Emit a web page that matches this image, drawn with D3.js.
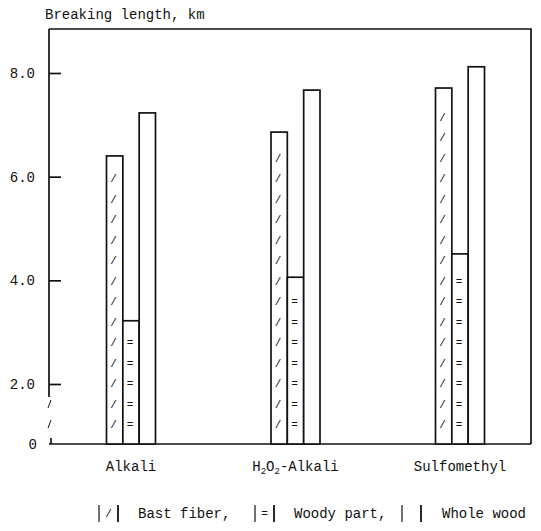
<!DOCTYPE html>
<html>
<head>
<meta charset="utf-8">
<script src="https://cdn.jsdelivr.net/npm/d3@7"></script>
<style>
  body { margin: 0; background: #fff; }
  text { font-family: "Liberation Mono", "DejaVu Sans Mono", monospace; fill: #111; }
</style>
</head>
<body>
<div id="chart"></div>
<script>
(function() {

var categories = ['Alkali', 'H2O2-Alkali', 'Sulfomethyl'];
var seriesNames = ['Bast fiber', 'Woody part', 'Whole wood'];
var seriesMarks = ['/', '=', ''];
var bastFiber = [6.40, 6.86, 7.71];
var woodyPart = [3.22, 4.06, 4.51];
var wholeWood = [7.23, 7.67, 8.12];
var tickValues = [2, 4, 6, 8];
var tickLabels = ['2.0', '4.0', '6.0', '8.0'];

var values = [bastFiber, woodyPart, wholeWood];

var width = 541, height = 531;
var left = 49, right = 531, top = 29, base = 444;

var svg = d3.select('#chart')
    .append('svg')
    .attr('width', width)
    .attr('height', height);

svg.append('rect').attr('width', width).attr('height', height).attr('fill', '#fff');

// broken axis: linear between 2 and 8, bars run down to the baseline
var y = d3.scaleLinear().domain([2, 8]).range([384, 73]);

var x = d3.scalePoint().domain(categories).range([left + 82, right - 71]);
var xs = d3.scaleBand().domain(seriesNames).range([-24.5, 24.5]);

var data = [];
categories.forEach(function(c, i) {
  seriesNames.forEach(function(s, j) {
    data.push({cat: c, series: s, mark: seriesMarks[j], value: values[j][i]});
  });
});

// frame
svg.append('path')
    .attr('d', 'M' + left + ',' + top + 'H' + right + 'V' + base)
    .attr('fill', 'none').attr('stroke', '#111').attr('stroke-width', 1.7);

svg.append('line')
    .attr('x1', left).attr('x2', right).attr('y1', base).attr('y2', base)
    .attr('stroke', '#111').attr('stroke-width', 1.7);

// left axis with the break
svg.append('line')
    .attr('x1', left).attr('x2', left).attr('y1', top).attr('y2', 397)
    .attr('stroke', '#111').attr('stroke-width', 1.7);
svg.append('line')
    .attr('x1', left + 2).attr('x2', left + 2).attr('y1', 438).attr('y2', base)
    .attr('stroke', '#111').attr('stroke-width', 1.7);
[404, 424].forEach(function(yy) {
  svg.append('line')
      .attr('x1', left - 1).attr('x2', left + 2).attr('y1', yy + 4).attr('y2', yy - 4)
      .attr('stroke', '#111').attr('stroke-width', 1);
});

var axis = d3.axisRight(y)
    .tickValues(tickValues)
    .tickSize(12)
    .tickFormat(function(d, i) { return tickLabels[i]; });

var ga = svg.append('g')
    .attr('transform', 'translate(' + left + ',0)')
    .call(axis);
ga.select('.domain').remove();
ga.selectAll('.tick line').attr('stroke', '#111').attr('stroke-width', 1.7);
ga.selectAll('.tick text')
    .attr('x', -14)
    .attr('text-anchor', 'end')
    .attr('font-size', 14)
    .attr('font-family', '"Liberation Mono", monospace')
    .attr('fill', '#111');

svg.append('text')
    .attr('x', 37).attr('y', base + 5)
    .attr('text-anchor', 'end')
    .attr('font-size', 14)
    .text('0');

svg.append('text')
    .attr('x', 45).attr('y', 19)
    .attr('font-size', 14)
    .text('Breaking length, km');

// bars
var bars = svg.append('g').selectAll('g')
    .data(data)
    .enter()
    .append('g')
    .attr('transform', function(d) { return 'translate(' + (x(d.cat) + xs(d.series)) + ',0)'; });

bars.append('rect')
    .attr('y', function(d) { return y(d.value); })
    .attr('width', xs.bandwidth())
    .attr('height', function(d) { return base - y(d.value); })
    .attr('fill', '#fff')
    .attr('stroke', '#111')
    .attr('stroke-width', 1.7);

bars.each(function(d) {
  if (!d.mark) return;
  var marks = d3.range(base - 20, y(d.value) + 15, -20.5);
  d3.select(this).selectAll('text')
      .data(marks)
      .enter()
      .append('text')
      .attr('x', xs.bandwidth() / 2 - 1)
      .attr('y', function(m) { return m + 4; })
      .attr('text-anchor', 'middle')
      .attr('font-size', 11)
      .text(d.mark);
});

// category labels, digits drawn as subscripts
var labels = svg.append('g').selectAll('text')
    .data(categories)
    .enter()
    .append('text')
    .attr('x', function(d) { return x(d); })
    .attr('y', 471)
    .attr('text-anchor', 'middle')
    .attr('font-size', 14);

labels.each(function(d) {
  var t = d3.select(this);
  var shifted = false;
  d.split(/(\d)/).forEach(function(part) {
    if (!part) return;
    if (/\d/.test(part)) {
      t.append('tspan').attr('font-size', 9).attr('dy', shifted ? 0 : 3).text(part);
      shifted = true;
    } else {
      t.append('tspan').attr('dy', shifted ? -3 : 0).text(part);
      shifted = false;
    }
  });
});

// legend
var legendX = [98, 254, 401];
var legend = svg.append('g').selectAll('g')
    .data(seriesNames)
    .enter()
    .append('g')
    .attr('transform', function(d, i) { return 'translate(' + legendX[i] + ',505)'; });

legend.append('line')
    .attr('x1', 1).attr('x2', 1).attr('y1', 0).attr('y2', 17)
    .attr('stroke', '#111').attr('stroke-width', 1.2);
legend.append('line')
    .attr('x1', 20).attr('x2', 20).attr('y1', 0).attr('y2', 17)
    .attr('stroke', '#111').attr('stroke-width', 1.8);
legend.append('text')
    .attr('x', 10.5).attr('y', 12)
    .attr('text-anchor', 'middle')
    .attr('font-size', 11)
    .text(function(d, i) { return seriesMarks[i]; });
legend.append('text')
    .attr('x', function(d, i) { return i === 2 ? 41 : 40; })
    .attr('y', 13)
    .attr('font-size', 14)
    .text(function(d, i) { return i < 2 ? d + ',' : d; });

})();
</script>
</body>
</html>
